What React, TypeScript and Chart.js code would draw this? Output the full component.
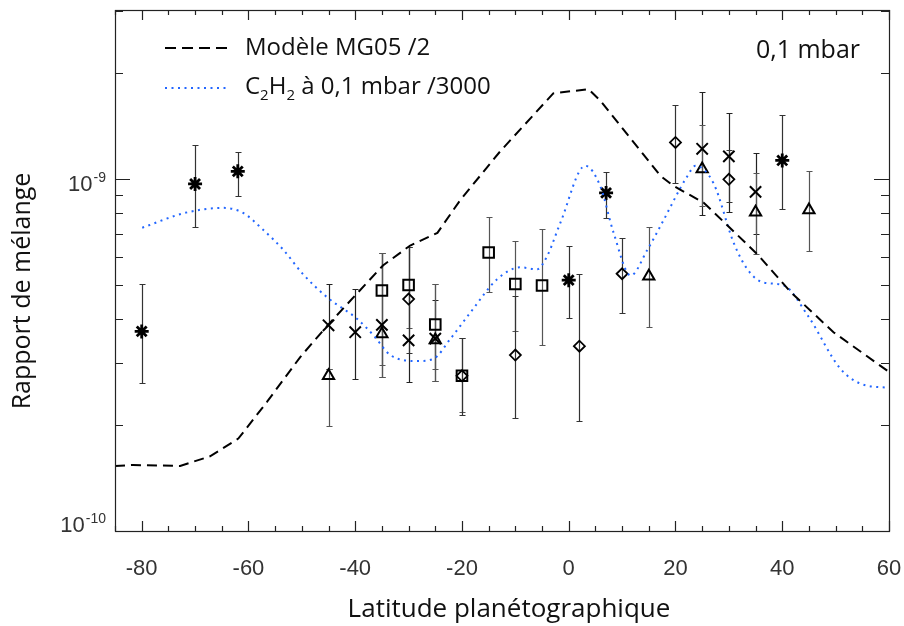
import React, { useEffect, useRef } from "react";
import { Chart, registerables } from "chart.js";
Chart.register(...registerables);

// Model MG05 /2 (dashed black)
const modelLat = [-85, -81.6, -72.8, -67.2, -61.9, -56.5, -50.3, -45.1, -34.8, -29.7, -24.6, -20.3, -12.8, -2.9, 3.7, 5.9, 17.2, 19.6, 25.3, 35.4, 41.6, 49.6, 60];
const modelVal = [1.53e-10, 1.54e-10, 1.53e-10, 1.63e-10, 1.83e-10, 2.33e-10, 3.12e-10, 3.85e-10, 5.68e-10, 6.47e-10, 7.03e-10, 8.72e-10, 1.2e-9, 1.75e-9, 1.8e-9, 1.67e-9, 1.02e-9, 9.56e-10, 8.56e-10, 6.1e-10, 4.77e-10, 3.67e-10, 2.83e-10];

// C2H2 at 0.1 mbar /3000 (dotted blue)
const c2h2Lat = [-79.9, -71.9, -64.75, -61, -57.25, -53.5, -49.75, -45.25, -39.6, -36.6, -33.4, -28.4, -25.4, -22.2, -18.4, -13.4, -9.06, -5.9, -4, -1.56, 3.1, 5.9, 8.4, 11.6, 14.75, 17.2, 22.25, 23.75, 27.1, 30.9, 33.5, 36.5, 40.25, 44.75, 50.9, 54.7, 60];
const c2h2Val = [7.27e-10, 8.01e-10, 8.28e-10, 8.01e-10, 7.17e-10, 6.3e-10, 5.36e-10, 4.61e-10, 4.0e-10, 3.6e-10, 3.16e-10, 3.04e-10, 3.08e-10, 3.51e-10, 4.18e-10, 5.19e-10, 5.61e-10, 5.54e-10, 6.06e-10, 7.51e-10, 1.09e-9, 9.55e-10, 7.04e-10, 5.32e-10, 6.3e-10, 7.36e-10, 1.02e-9, 1.09e-9, 9.74e-10, 6.59e-10, 5.53e-10, 5.08e-10, 4.99e-10, 4.1e-10, 2.89e-10, 2.62e-10, 2.55e-10];

// Observations (asterisks)
const starLat = [-80, -70, -62, 0, 7, 40];
const starVal = [3.69e-10, 9.68e-10, 1.051e-9, 5.16e-10, 9.13e-10, 1.129e-9];
const starHi = [5.03e-10, 1.247e-9, 1.194e-9, 6.45e-10, 1.044e-9, 1.519e-9];
const starLo = [2.64e-10, 7.29e-10, 8.97e-10, 4.03e-10, 7.76e-10, 8.23e-10];

// Observations (crosses)
const crossLat = [-45, -40, -35, -30, -25, 25, 30, 35];
const crossVal = [3.84e-10, 3.67e-10, 3.85e-10, 3.48e-10, 3.52e-10, 1.218e-9, 1.159e-9, 9.19e-10];
const crossHi = [5.02e-10, 4.87e-10, 6.15e-10, 6.42e-10, 4.52e-10, 1.761e-9, 1.536e-9, 1.184e-9];
const crossLo = [2.89e-10, 2.7e-10, 2.74e-10, 2.65e-10, 2.67e-10, 7.88e-10, 8.05e-10, 6.96e-10];

// Observations (squares)
const squareLat = [-35, -30, -25, -20, -15, -10, -5];
const squareVal = [4.82e-10, 5.0e-10, 3.86e-10, 2.76e-10, 6.18e-10, 5.03e-10, 4.98e-10];
const squareHi = [6.15e-10, 6.42e-10, 5.02e-10, 3.53e-10, 7.81e-10, 6.68e-10, 7.19e-10];
const squareLo = [2.96e-10, 3.77e-10, 2.89e-10, 2.18e-10, 4.76e-10, 3.71e-10, 3.37e-10];

// Observations (diamonds)
const diamondLat = [-30, -20, -10, 2, 10, 20, 30];
const diamondVal = [4.56e-10, 2.76e-10, 3.16e-10, 3.35e-10, 5.38e-10, 1.27e-9, 9.98e-10];
const diamondHi = [6.42e-10, 3.53e-10, 4.64e-10, 5.38e-10, 6.78e-10, 1.618e-9, 1.21e-9];
const diamondLo = [3.2e-10, 2.13e-10, 2.1e-10, 2.06e-10, 4.16e-10, 9.74e-10, 8.59e-10];

// Observations (triangles)
const triangleLat = [-45, -35, -25, 15, 25, 35, 45];
const triangleVal = [2.76e-10, 3.63e-10, 3.49e-10, 5.29e-10, 1.067e-9, 8.05e-10, 8.16e-10];
const triangleHi = [2.89e-10, 6.15e-10, 5.02e-10, 7.29e-10, 1.423e-9, 1.04e-9, 1.053e-9];
const triangleLo = [1.99e-10, 2.74e-10, 2.67e-10, 3.79e-10, 8.37e-10, 6.11e-10, 6.23e-10];

// Axis ticks
const xMajorTicks = [-80, -60, -40, -20, 0, 20, 40, 60];
const xMinorTicks = [-85, -75, -70, -65, -55, -50, -45, -35, -30, -25, -15, -10, -5, 5, 10, 15, 25, 30, 35, 45, 50, 55];
const yMajorTicks = [1e-10, 1e-9];
const yMajorExp = ["-10", "-9"];
const yMinorTicks = [2e-10, 3e-10, 4e-10, 5e-10, 6e-10, 7e-10, 8e-10, 9e-10, 2e-9, 3e-9];

const X_MIN = -85, X_MAX = 60, Y_MIN = 1e-10, Y_MAX = 3.02e-9;

const TITLE_FONT = '"Open Sans", sans-serif';
const TICK_FONT = '"Liberation Sans", Arial, sans-serif';
const BLUE = "#2266ff";

const pts = (xs: number[], ys: number[]) => xs.map((x, i) => ({ x, y: ys[i] }));

const customPlugin = {
  id: "customAxes",
  beforeDatasetsDraw(chart: any) {
    const { ctx, scales } = chart;
    const x = scales.x, y = scales.y;
    ctx.save();
    chart.data.datasets.forEach((ds: any) => {
      if (!ds.errHi) return;
      ctx.strokeStyle = ds.errColor || "#333";
      ctx.lineWidth = 1.2;
      ds.data.forEach((p: any, j: number) => {
        const px = Math.round(x.getPixelForValue(p.x)) + 0.5;
        const yh = Math.round(y.getPixelForValue(ds.errHi[j])) + 0.5;
        const yl = Math.round(y.getPixelForValue(ds.errLo[j])) + 0.5;
        ctx.beginPath();
        ctx.moveTo(px, yh); ctx.lineTo(px, yl);
        ctx.moveTo(px - 3, yh); ctx.lineTo(px + 3, yh);
        ctx.moveTo(px - 3, yl); ctx.lineTo(px + 3, yl);
        ctx.stroke();
      });
    });
    ctx.restore();
  },
  afterDraw(chart: any) {
    const { ctx, scales } = chart;
    const x = scales.x, y = scales.y;
    const L = x.left, R = x.right, T = y.top, B = y.bottom;
    ctx.save();
    // frame
    ctx.strokeStyle = "#222";
    ctx.lineWidth = 1.2;
    ctx.strokeRect(Math.round(L) + 0.5, Math.round(T) + 0.5, Math.round(R - L), Math.round(B - T));
    // x ticks
    ctx.beginPath();
    const xt = (v: number, len: number) => {
      const px = Math.round(x.getPixelForValue(v)) + 0.5;
      ctx.moveTo(px, B); ctx.lineTo(px, B - len);
      ctx.moveTo(px, T); ctx.lineTo(px, T + len);
    };
    xMajorTicks.forEach(v => xt(v, 10));
    xMinorTicks.forEach(v => xt(v, 5));
    const yt = (v: number, len: number) => {
      const py = Math.round(y.getPixelForValue(v)) + 0.5;
      ctx.moveTo(L, py); ctx.lineTo(L + len, py);
      ctx.moveTo(R, py); ctx.lineTo(R - len, py);
    };
    yMajorTicks.forEach(v => yt(v, 15));
    yMinorTicks.forEach(v => yt(v, 8));
    ctx.stroke();

    // x tick labels
    ctx.fillStyle = "#333";
    ctx.font = `22px ${TICK_FONT}`;
    ctx.textAlign = "center";
    ctx.textBaseline = "alphabetic";
    xMajorTicks.forEach(v => {
      ctx.fillText(String(v), x.getPixelForValue(v), B + 44);
    });
    // y tick labels with superscript exponent
    yMajorTicks.forEach((v, i) => {
      const py = y.getPixelForValue(v);
      const base = Math.min(py + 12, B + 1);
      ctx.font = `14px ${TICK_FONT}`;
      ctx.textAlign = "right";
      const expW = ctx.measureText(yMajorExp[i]).width;
      ctx.fillText(yMajorExp[i], 106, base - 9);
      ctx.font = `22px ${TICK_FONT}`;
      ctx.fillText("10", 106 - expW - 1, base);
    });

    // axis titles
    ctx.fillStyle = "#111";
    ctx.font = `26px ${TITLE_FONT}`;
    ctx.textAlign = "center";
    ctx.fillText("Latitude planétographique", 509, 617);
    ctx.save();
    ctx.translate(30, 291);
    ctx.rotate(-Math.PI / 2);
    ctx.font = `25px ${TITLE_FONT}`;
    ctx.fillText("Rapport de mélange", 0, 0);
    ctx.restore();

    // legend
    ctx.textAlign = "left";
    ctx.strokeStyle = "#000";
    ctx.lineWidth = 2;
    ctx.setLineDash([11, 6]);
    ctx.beginPath(); ctx.moveTo(165, 48); ctx.lineTo(230, 48); ctx.stroke();
    ctx.strokeStyle = BLUE;
    ctx.setLineDash([2, 4.5]);
    ctx.beginPath(); ctx.moveTo(165, 88); ctx.lineTo(230, 88); ctx.stroke();
    ctx.setLineDash([]);
    ctx.fillStyle = "#111";
    ctx.font = `24px ${TITLE_FONT}`;
    ctx.fillText("Modèle MG05 /2", 245, 55);
    let cx = 245;
    const seg = (t: string, sub: boolean) => {
      ctx.font = sub ? `15px ${TITLE_FONT}` : `24px ${TITLE_FONT}`;
      ctx.fillText(t, cx, sub ? 100 : 94);
      cx += ctx.measureText(t).width;
    };
    seg("C", false); seg("2", true); seg("H", false); seg("2", true); seg(" à 0,1 mbar /3000", false);
    ctx.textAlign = "right";
    ctx.font = `25px ${TITLE_FONT}`;
    ctx.fillText("0,1 mbar", 860, 58);
    ctx.restore();
  },
};

export default function App() {
  const ref = useRef<HTMLCanvasElement | null>(null);
  useEffect(() => {
    if (!ref.current) return;
    const markerBase = { showLine: false, borderColor: "#000", backgroundColor: "rgba(0,0,0,0)", pointBorderWidth: 1.8, pointHoverRadius: 0 };
    const chart = new Chart(ref.current, {
      type: "line",
      data: {
        datasets: [
          { label: "Modèle MG05 /2", data: pts(modelLat, modelVal), borderColor: "#000", borderWidth: 2, borderDash: [10, 6], pointRadius: 0, tension: 0, fill: false },
          { label: "C2H2", data: pts(c2h2Lat, c2h2Val), borderColor: BLUE, borderWidth: 2, borderDash: [2, 4.5], pointRadius: 0, cubicInterpolationMode: "monotone", fill: false },
          { ...markerBase, label: "star", data: pts(starLat, starVal), pointStyle: "star", pointRadius: 7, pointBorderWidth: 2.8, errHi: starHi, errLo: starLo, errColor: "#333" } as any,
          { ...markerBase, label: "cross", data: pts(crossLat, crossVal), pointStyle: "crossRot", pointRadius: 8, pointBorderWidth: 2, errHi: crossHi, errLo: crossLo, errColor: "#222" } as any,
          { ...markerBase, label: "square", data: pts(squareLat, squareVal), pointStyle: "rect", pointRadius: 7.5, pointBorderWidth: 2, errHi: squareHi, errLo: squareLo, errColor: "#555" } as any,
          { ...markerBase, label: "diamond", data: pts(diamondLat, diamondVal), pointStyle: "rectRot", pointRadius: 5.5, errHi: diamondHi, errLo: diamondLo, errColor: "#333" } as any,
          { ...markerBase, label: "triangle", data: pts(triangleLat, triangleVal), pointStyle: "triangle", pointRadius: 6.5, pointBorderWidth: 2, errHi: triangleHi, errLo: triangleLo, errColor: "#555" } as any,
        ],
      },
      options: {
        responsive: false,
        animation: false,
        layout: { padding: { left: 115, top: 6, right: 15, bottom: 95 } },
        plugins: { legend: { display: false }, tooltip: { enabled: false }, title: { display: false } },
        scales: {
          x: { type: "linear", min: X_MIN, max: X_MAX, display: false },
          y: { type: "logarithmic", min: Y_MIN, max: Y_MAX, display: false },
        },
      },
      plugins: [customPlugin],
    });
    return () => chart.destroy();
  }, []);
  return (
    <div style={{ position: "fixed", left: 0, top: 0, width: 904, height: 626, background: "#fff" }}>
      <canvas ref={ref} width={904} height={626} style={{ width: 904, height: 626 }} />
    </div>
  );
}
